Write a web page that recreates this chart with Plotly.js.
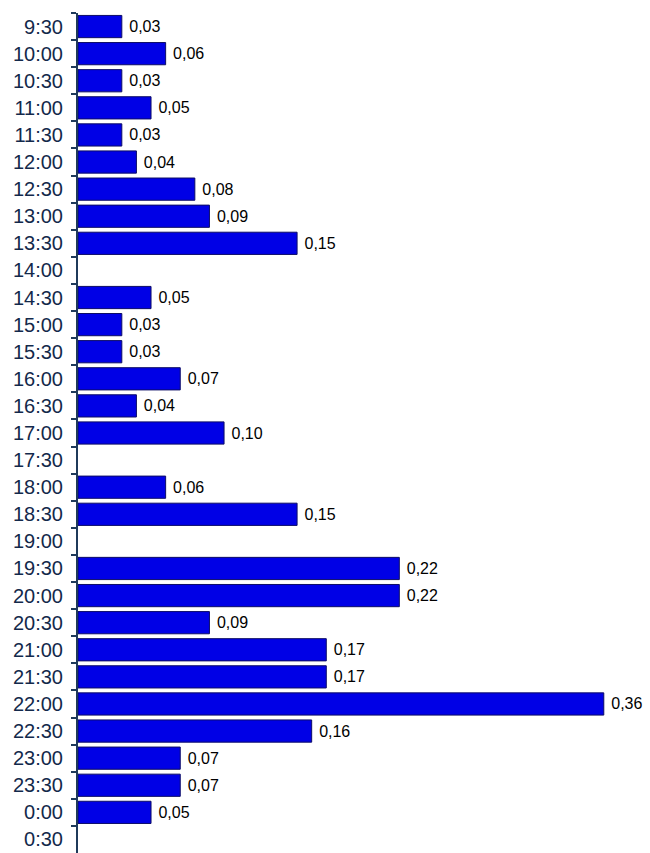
<!DOCTYPE html>
<html>
<head>
<meta charset="utf-8">
<script src="https://cdn.plot.ly/plotly-3.0.1.min.js"></script>
<style>
html,body{margin:0;padding:0;background:#fff;}
#chart{width:650px;height:853px;}
</style>
</head>
<body>
<div id="chart"></div>
<script>
const times = ["9:30","10:00","10:30","11:00","11:30","12:00","12:30","13:00","13:30","14:00",
  "14:30","15:00","15:30","16:00","16:30","17:00","17:30","18:00","18:30","19:00",
  "19:30","20:00","20:30","21:00","21:30","22:00","22:30","23:00","23:30","0:00","0:30"];
const values = [0.03,0.06,0.03,0.05,0.03,0.04,0.08,0.09,0.15,null,
  0.05,0.03,0.03,0.07,0.04,0.10,null,0.06,0.15,null,
  0.22,0.22,0.09,0.17,0.17,0.36,0.16,0.07,0.07,0.05,null];

const trace = {
  type: "bar",
  orientation: "h",
  y: times,
  x: values,
  width: 0.82,
  marker: {color: "#0000E6", line: {color: "#0C0C66", width: 1}},
  texttemplate: " %{x:.2f}",
  textposition: "outside",
  constraintext: "none",
  cliponaxis: false,
  textfont: {family: "Arial, Liberation Sans, sans-serif", size: 16, color: "#000"},
  hoverinfo: "none"
};

const layout = {
  width: 650, height: 853,
  margin: {l: 78, r: 17, t: 13, b: 0},
  paper_bgcolor: "#fff", plot_bgcolor: "#fff",
  separators: ",.",
  showlegend: false,
  bargap: 0.18,
  xaxis: {range: [0, 0.38], visible: false, fixedrange: true},
  yaxis: {
    type: "category",
    categoryorder: "array", categoryarray: times,
    range: [30.5, -0.5],
    showline: true, linecolor: "#1F3A5A", linewidth: 2,
    ticks: "outside", ticklen: 5, tickcolor: "#1F3A5A", tickwidth: 2,
    tickson: "boundaries",
    showgrid: false, zeroline: false,
    ticklabelstandoff: 9,
    tickfont: {family: "Arial, Liberation Sans, sans-serif", size: 20, color: "#13294B"}
  }
};

Plotly.newPlot("chart", [trace], layout, {displayModeBar: false, staticPlot: true});
</script>
</body>
</html>
